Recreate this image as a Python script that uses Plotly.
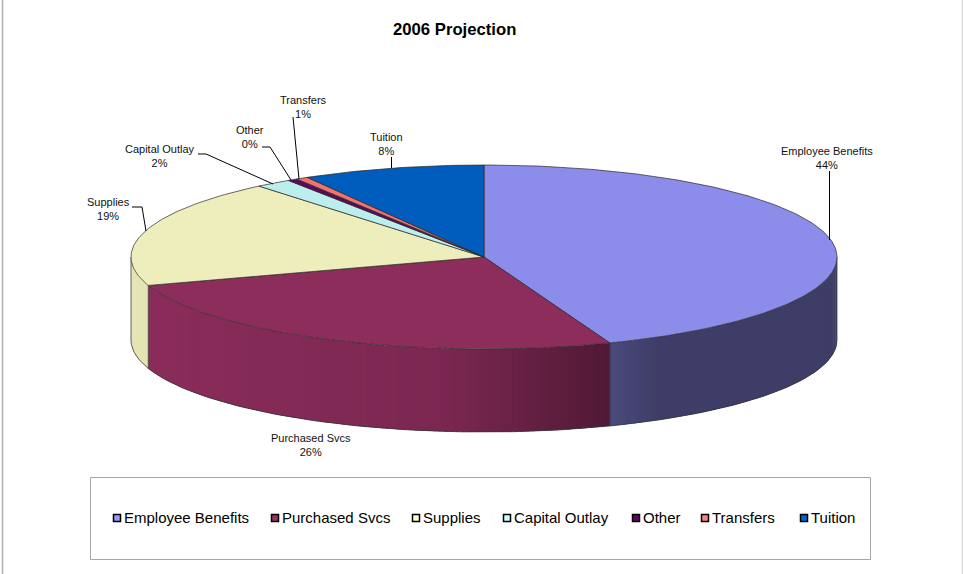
import math
import plotly.graph_objects as go

categories = ["Employee Benefits", "Purchased Svcs", "Supplies", "Capital Outlay", "Other", "Transfers", "Tuition"]
values = [44.2, 25.8, 19.0, 1.65, 0.45, 0.55, 8.35]
top_colors = ["#8c8ceb", "#8c2d5c", "#eeeebd", "#bdeeee", "#5c0a5c", "#f0736e", "#005cbd"]
swatch_colors = ["#9999ff", "#993366", "#ffffcc", "#ccffff", "#660066", "#ff8080", "#0066cc"]
title = "2006 Projection"

CX, CY, RX, RY, DEPTH = 484, 257, 353, 92, 83
W, H = 963, 574


def pt(a, dy=0.0):
    return CX + RX * math.sin(a), CY - RY * math.cos(a) + dy


def arc(a0, a1, n=None):
    n = n or max(2, int(abs(a1 - a0) * 60))
    return [a0 + (a1 - a0) * i / n for i in range(n + 1)]


def shade(hexc, f):
    r, g, b = int(hexc[1:3], 16), int(hexc[3:5], 16), int(hexc[5:7], 16)
    return f"rgb({int(r*f)},{int(g*f)},{int(b*f)})"


def wall_factor(a):
    # lighting along the rim, as a horizontal gradient
    x = math.sin(a)
    if x < -0.1:
        return 1.0 - 0.12 * (x + 1) / 0.9
    if x < 0.36:
        return 0.88 - (x + 0.1) / 0.46 * 0.31
    return 0.53 - (x - 0.36) / 0.14 * 0.09 if x < 0.5 else 0.44


fig = go.Figure()
total = sum(values)
edges = [0.0]
for v in values:
    edges.append(edges[-1] + v / total * 2 * math.pi)

# side walls (only the front half of the disc is visible); painted with overlap
for i, cat in enumerate(categories):
    a0 = max(edges[i], math.pi / 2)
    a1 = min(edges[i + 1], 3 * math.pi / 2)
    if a1 <= a0:
        continue
    angles = arc(a0, a1, max(4, int((a1 - a0) * 60)))
    for s, e in zip(angles[:-1], angles[1:]):
        m = (s + e) / 2
        e2 = min(e + 0.012, a1)
        f = [pt(t) for t in arc(s, e2, 4)]
        b = [pt(t, DEPTH) for t in arc(e2, s, 4)]
        xs = [p[0] for p in f + b] + [f[0][0]]
        ys = [p[1] for p in f + b] + [f[0][1]]
        c = shade(top_colors[i], wall_factor(m) if i != 2 else 0.96)
        fig.add_trace(go.Scatter(x=xs, y=ys, mode="lines", fill="toself", fillcolor=c,
                                 line=dict(width=0), hoverinfo="skip", showlegend=False))

# wall outlines
for i in range(len(categories)):
    a0 = max(edges[i], math.pi / 2)
    a1 = min(edges[i + 1], 3 * math.pi / 2)
    if a1 <= a0:
        continue
    t = arc(a0, a1)
    lower = [pt(a, DEPTH) for a in t]
    fig.add_trace(go.Scatter(x=[p[0] for p in lower], y=[p[1] for p in lower], mode="lines",
                             line=dict(color="#333333", width=0.8), hoverinfo="skip", showlegend=False))
for a in edges[1:] + [math.pi / 2, 3 * math.pi / 2]:
    if math.pi / 2 <= a <= 3 * math.pi / 2:
        p, q = pt(a), pt(a, DEPTH)
        fig.add_trace(go.Scatter(x=[p[0], q[0]], y=[p[1], q[1]], mode="lines",
                                 line=dict(color="#222222", width=0.7), hoverinfo="skip", showlegend=False))

# top face slices
for i, cat in enumerate(categories):
    pts = [(CX, CY)] + [pt(a) for a in arc(edges[i], edges[i + 1])] + [(CX, CY)]
    fig.add_trace(go.Scatter(x=[p[0] for p in pts], y=[p[1] for p in pts], mode="lines", fill="toself",
                             fillcolor=top_colors[i], line=dict(color="#2a2a2a", width=0.7),
                             name=cat, hovertemplate=f"{cat}: {values[i]:.0f}%<extra></extra>",
                             showlegend=False))

# data labels: text position + leader from the rim
label_pos = {
    "Employee Benefits": (827, 158),
    "Purchased Svcs": (311, 445),
    "Supplies": (108, 208.5),
    "Capital Outlay": (160, 155.5),
    "Other": (250, 136.5),
    "Transfers": (303, 106.5),
    "Tuition": (386.5, 143.5),
}
leaders = {
    "Employee Benefits": [(829.5, 171), (829.5, 240)],
    "Supplies": [(132, 207), (142, 207), (146, 231)],
    "Capital Outlay": [(198, 154), (206, 154), (273, 184)],
    "Other": [(262, 147), (270, 147), (291, 180)],
    "Transfers": [(293, 117), (299, 179)],
    "Tuition": [(391.5, 157), (391.5, 168)],
}
for i, cat in enumerate(categories):
    x, y = label_pos[cat]
    fig.add_annotation(x=x, y=y, text=f"{cat}<br>{round(values[i])}%", showarrow=False, xanchor="center",
                       yanchor="middle", font=dict(family="Liberation Sans", size=11, color="#111111"),
                       align="center")
    if cat in leaders:
        L = leaders[cat]
        fig.add_trace(go.Scatter(x=[p[0] for p in L], y=[p[1] for p in L], mode="lines",
                                 line=dict(color="#000000", width=1), hoverinfo="skip", showlegend=False))

# legend
legend_x = [117, 275, 416, 507, 636, 705, 804]
LEGEND_Y = 518
for i, cat in enumerate(categories):
    fig.add_trace(go.Scatter(x=[legend_x[i]], y=[LEGEND_Y], mode="markers",
                             marker=dict(symbol="square", size=7, color=swatch_colors[i],
                                         line=dict(color="#000000", width=1.5)),
                             hoverinfo="skip", showlegend=False))
    fig.add_annotation(x=legend_x[i] + 5, y=LEGEND_Y - 0.5, text=cat, showarrow=False, xanchor="left", yanchor="middle",
                       font=dict(family="Liberation Sans", size=15, color="#000000"))

fig.add_annotation(x=454.5, y=29, text=f"<b>{title}</b>", showarrow=False, xanchor="center", yanchor="middle",
                   font=dict(family="Liberation Sans", size=16.7, color="#000000"))

# frames
fig.add_shape(type="rect", x0=90.5, y0=477.5, x1=870.5, y1=559.5, line=dict(color="#a6a6a6", width=1),
              fillcolor="rgba(0,0,0,0)")
fig.add_shape(type="line", x0=2.5, y0=-5, x1=2.5, y1=580, line=dict(color="#b0b0b0", width=1.5))
fig.add_shape(type="line", x0=962.5, y0=-5, x1=962.5, y1=580, line=dict(color="#d8d8d8", width=1.5))

fig.update_layout(
    width=W, height=H, margin=dict(l=0, r=0, t=0, b=0), paper_bgcolor="white", plot_bgcolor="white",
    xaxis=dict(range=[0, W], visible=False, fixedrange=True),
    yaxis=dict(range=[H, 0], visible=False, fixedrange=True),
    showlegend=False,
)
fig.write_html("out.html", config={"displayModeBar": False},
               post_script="document.body.style.margin='0';document.documentElement.style.overflow='hidden';")
